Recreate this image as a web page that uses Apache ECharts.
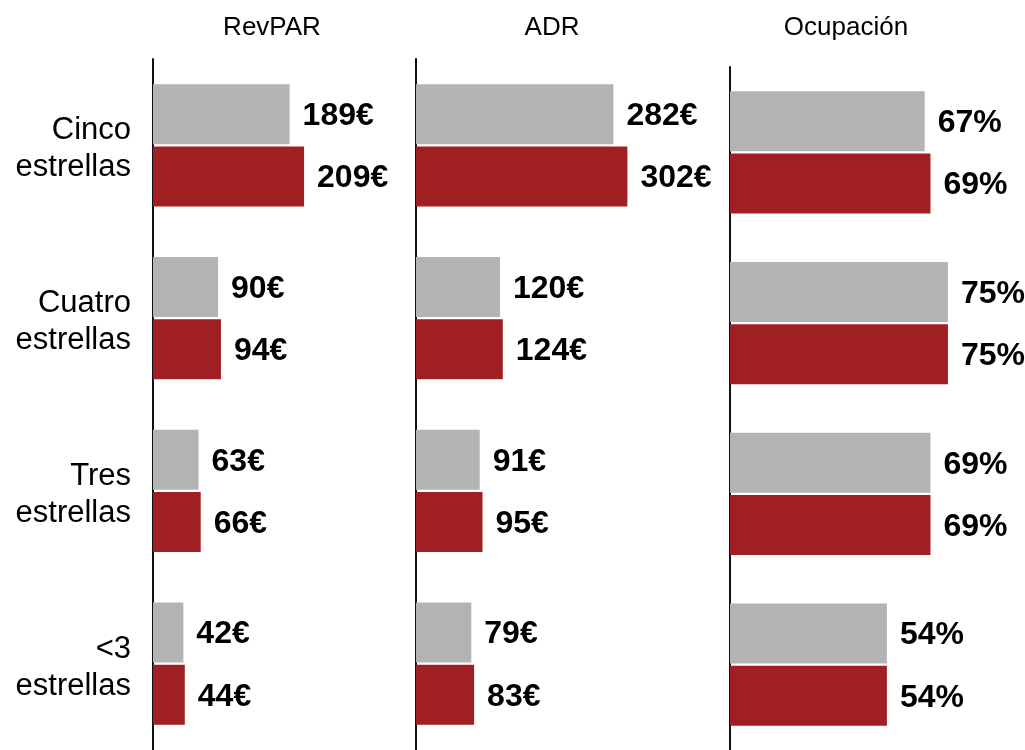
<!DOCTYPE html>
<html>
<head>
<meta charset="utf-8">
<script src="https://cdn.jsdelivr.net/npm/echarts@6/dist/echarts.min.js"></script>
<style>
  html, body { margin: 0; padding: 0; background: #fff; }
  #chart { width: 1025px; height: 750px; }
</style>
</head>
<body>
<div id="chart"></div>
<script>
const categories = ["Cinco\nestrellas", "Cuatro\nestrellas", "Tres\nestrellas", "<3\nestrellas"];
const panelTitles = ["RevPAR", "ADR", "Ocupación"];

const revparPrev = [189, 90, 63, 42];
const revparCur = [209, 94, 66, 44];
const adrPrev = [282, 120, 91, 79];
const adrCur = [302, 124, 95, 83];
const occPrev = [67, 75, 69, 54];
const occCur = [69, 75, 69, 54];

const GREY = "#b3b3b3";
const RED = "#a01f22";
const FONT = "'Liberation Sans', Arial, sans-serif";

const grids = [
  { left: 153, top: 59, width: 253, height: 693 },
  { left: 416, top: 59, width: 301, height: 693 },
  { left: 730, top: 67, width: 292, height: 685 }
];
const xMax = [350, 430, 100.5];
const suffix = ["€", "€", "%"];
const seriesData = [
  [revparPrev, revparCur],
  [adrPrev, adrCur],
  [occPrev, occCur]
];
const titleX = [267, 547, 841];

const series = [];
seriesData.forEach((pair, i) => {
  pair.forEach((values, j) => {
    series.push({
      type: "bar",
      xAxisIndex: i,
      yAxisIndex: i,
      data: values,
      barWidth: 60,
      barGap: "3.5%",
      itemStyle: { color: j === 0 ? GREY : RED },
      label: {
        show: true,
        position: "right",
        distance: 13,
        offset: [0, 2],
        formatter: (p) => p.value + suffix[i],
        color: "#000",
        fontSize: 32,
        fontWeight: "bold",
        fontFamily: FONT
      },
      silent: true
    });
  });
});

const option = {
  backgroundColor: "#fff",
  animation: false,
  textStyle: { fontFamily: FONT },
  title: panelTitles.map((t, i) => ({
    text: t,
    left: titleX[i],
    top: 10,
    textAlign: "center",
    textStyle: { fontSize: 26, fontWeight: "normal", color: "#000", fontFamily: FONT }
  })),
  grid: grids,
  xAxis: grids.map((g, i) => ({
    type: "value",
    gridIndex: i,
    min: 0,
    max: xMax[i],
    show: false
  })),
  yAxis: grids.map((g, i) => ({
    type: "category",
    gridIndex: i,
    data: categories,
    inverse: true,
    axisLine: { show: true, lineStyle: { color: "#111", width: 2 } },
    axisTick: { show: false },
    axisLabel: {
      show: i === 0,
      margin: 22,
      align: "right",
      // small empty first line nudges the two-line label down a little
      formatter: (v) => "{s| }\n" + v.split("\n").map((l) => "{c|" + l + "}").join("\n"),
      rich: {
        s: { fontSize: 2, lineHeight: 8 },
        c: { color: "#000", fontSize: 31, lineHeight: 37, fontFamily: FONT, align: "right" }
      }
    },
    splitLine: { show: false }
  })),
  series: series
};

const chart = echarts.init(document.getElementById("chart"));
chart.setOption(option);
</script>
</body>
</html>
